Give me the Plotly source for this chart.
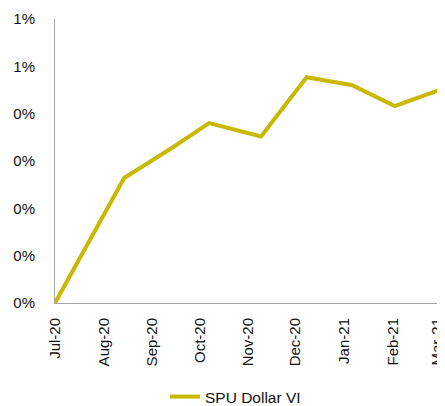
import plotly.graph_objects as go

dates = ["2020-07-01", "2020-08-14", "2020-09-14", "2020-10-07", "2020-11-09",
         "2020-12-08", "2021-01-06", "2021-02-02", "2021-03-06"]
spu_dollar_vi = [0.0, 0.00264, 0.00329, 0.00380, 0.00352, 0.00477, 0.00460, 0.00416, 0.00454]

y_tick_vals = [0.0, 0.001, 0.002, 0.003, 0.004, 0.005, 0.006]
y_tick_text = ["0%", "0%", "0%", "0%", "0%", "1%", "1%"]

font = "Liberation Sans, Arial, sans-serif"

fig = go.Figure()
fig.add_trace(go.Scatter(
    x=dates, y=spu_dollar_vi, mode="lines", name="SPU Dollar VI",
    line=dict(color="#C8B900", width=4),
))

# page body has an 8px margin, so the figure is sized/offset to compensate
fig.update_layout(
    width=437, height=398,
    margin=dict(l=47, r=0, t=11, b=103, autoexpand=False),
    paper_bgcolor="white", plot_bgcolor="white",
    font=dict(family=font, size=15, color="#111111"),
    showlegend=True,
    legend=dict(orientation="h", x=0.282, xanchor="left",
                yref="container", y=0.0226, yanchor="middle",
                font=dict(size=15.5)),
    xaxis=dict(
        type="date", range=["2020-07-01", "2021-03-06"],
        tick0="2020-07-01", dtick="M1", tickformat="%b-%y",
        tickangle=-90, showgrid=False, zeroline=False,
        showline=True, linecolor="#A6A6A6", linewidth=1,
        ticks="", ticklabelstandoff=8, automargin=False,
        ticklabeloverflow="allow",
    ),
    yaxis=dict(
        range=[0, 0.006], tickvals=y_tick_vals, ticktext=y_tick_text,
        showgrid=False, zeroline=False,
        showline=True, linecolor="#A6A6A6", linewidth=1,
        ticks="", ticklabelstandoff=16, automargin=False,
    ),
)

fig.write_html("out.html")
